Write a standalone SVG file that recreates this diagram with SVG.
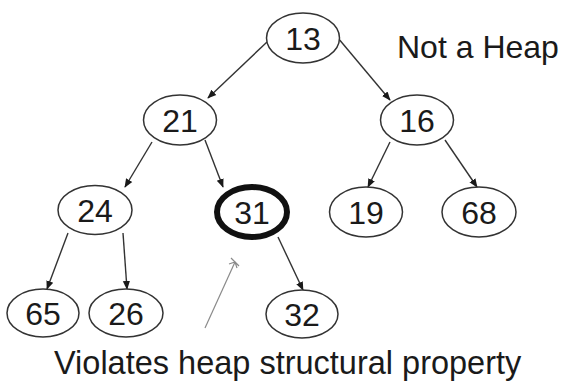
<svg xmlns="http://www.w3.org/2000/svg" width="561" height="385" viewBox="0 0 561 385">
<style>
  .node ellipse { fill: #ffffff; stroke: #333333; stroke-width: 1.5; }
  .node text { font-family: "Liberation Sans", Arial, sans-serif; font-size: 32px; fill: #1a1a1a; text-anchor: middle; }
  .edge { stroke: #333333; stroke-width: 1.4; fill: none; marker-end: url(#arr); }
  .label { font-family: "Liberation Sans", Arial, sans-serif; fill: #1a1a1a; }
</style>
<defs>
  <marker id="arr" viewBox="0 0 10 10" refX="9" refY="5" markerWidth="9" markerHeight="9" markerUnits="userSpaceOnUse" orient="auto">
    <path d="M0,1 L10,5 L0,9 Z" fill="#1a1a1a"/>
  </marker>
</defs>
<rect width="561" height="385" fill="#ffffff"/>
<g id="connectors">
  <line class="edge" x1="267" y1="42" x2="208" y2="98"/>
  <line class="edge" x1="338" y1="38" x2="390" y2="100"/>
  <line class="edge" x1="152" y1="142" x2="125" y2="187"/>
  <line class="edge" x1="205" y1="140" x2="223" y2="187"/>
  <line class="edge" x1="390" y1="142" x2="368" y2="187"/>
  <line class="edge" x1="445" y1="140" x2="477" y2="187"/>
  <line class="edge" x1="68" y1="233" x2="47" y2="289"/>
  <line class="edge" x1="123" y1="233" x2="127" y2="289"/>
  <line class="edge" x1="278" y1="237" x2="303" y2="290"/>
  <g id="pointer" stroke="#8a8a8a" stroke-width="1.2" fill="none">
    <line x1="205" y1="328" x2="235" y2="262"/>
    <path d="M229,264 L235,262 L237,268 M231,258 L239,266"/>
  </g>
</g>
<g id="n13" class="node"><ellipse cx="303" cy="38" rx="36.5" ry="25"/><text x="303" y="50">13</text></g>
<g id="n21" class="node"><ellipse cx="180" cy="120" rx="36.5" ry="25"/><text x="180" y="132">21</text></g>
<g id="n16" class="node"><ellipse cx="417" cy="120" rx="36.5" ry="25"/><text x="417" y="132">16</text></g>
<g id="n24" class="node"><ellipse cx="95" cy="210" rx="37" ry="24.5"/><text x="95" y="222">24</text></g>
<g id="n31" class="node"><ellipse cx="252" cy="212" rx="35" ry="25" style="stroke:#111111;stroke-width:6"/><text x="252" y="224">31</text></g>
<g id="n19" class="node"><ellipse cx="366" cy="212" rx="36.5" ry="25"/><text x="366" y="224">19</text></g>
<g id="n68" class="node"><ellipse cx="479" cy="212" rx="37" ry="25"/><text x="479" y="224">68</text></g>
<g id="n65" class="node"><ellipse cx="43" cy="313" rx="36" ry="24"/><text x="43" y="325">65</text></g>
<g id="n26" class="node"><ellipse cx="126" cy="313" rx="37" ry="24"/><text x="126" y="325">26</text></g>
<g id="n32" class="node"><ellipse cx="302" cy="314" rx="36" ry="24"/><text x="302" y="326">32</text></g>
<text class="label" x="397" y="58" font-size="32">Not a Heap</text>
<text class="label" x="54" y="374" font-size="32.5">Violates heap structural property</text>
</svg>
